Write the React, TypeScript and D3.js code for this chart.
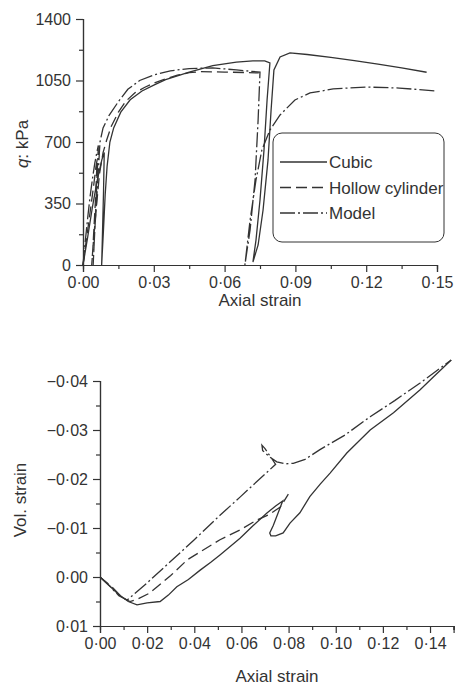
import { useRef, useEffect } from 'react';
import * as d3 from 'd3';

// top panel: deviator stress q (kPa) against axial strain
const cubicQ: [number, number][] = [
  [0, 0], [0.002, 160], [0.004, 330], [0.006, 480], [0.008, 600], [0.009, 640],
  [0.0087, 420], [0.0082, 150], [0.0079, 0],
  [0.0086, 180], [0.0094, 400], [0.0102, 560], [0.0114, 700], [0.013, 780], [0.016, 870],
  [0.02, 940], [0.025, 990], [0.03, 1024], [0.035, 1055], [0.045, 1098], [0.055, 1135],
  [0.065, 1155], [0.072, 1162], [0.077, 1162], [0.0792, 1150],
  [0.078, 939], [0.0767, 655], [0.075, 370], [0.0733, 142], [0.072, 17],
  [0.0742, 114], [0.0763, 313], [0.0784, 598], [0.0797, 882], [0.0809, 1110],
  [0.0835, 1184], [0.0877, 1207], [0.095, 1198], [0.105, 1182], [0.115, 1163],
  [0.125, 1143], [0.135, 1122], [0.1456, 1097],
];

const hollowQ: [number, number][] = [
  [0, 0], [0.0015, 150], [0.003, 300], [0.0045, 450], [0.0055, 560], [0.006, 600],
  [0.0052, 350], [0.0042, 100], [0.0037, 0],
  [0.0045, 150], [0.0058, 350], [0.007, 520], [0.0085, 640], [0.01, 710], [0.012, 790],
  [0.015, 870], [0.018, 930], [0.022, 980], [0.026, 1010], [0.03, 1035], [0.035, 1060],
  [0.04, 1080], [0.045, 1095], [0.05, 1100], [0.06, 1098], [0.07, 1095], [0.0745, 1093],
];

const modelQ: [number, number][] = [
  [0, 0], [0.001, 140], [0.002, 270], [0.003, 390], [0.004, 490], [0.005, 580],
  [0.006, 650], [0.0065, 680], [0.0058, 450], [0.005, 200], [0.0043, 0],
  [0.005, 200], [0.006, 420], [0.0072, 700], [0.0085, 780], [0.011, 850], [0.015, 930],
  [0.019, 1000], [0.024, 1050], [0.03, 1081], [0.037, 1105], [0.045, 1118], [0.055, 1122],
  [0.065, 1110], [0.075, 1098],
  [0.0742, 825], [0.0729, 484], [0.0708, 200], [0.0686, 0],
  [0.0708, 256], [0.0733, 484], [0.0758, 655], [0.0792, 768], [0.0835, 854],
  [0.0898, 939], [0.0962, 979], [0.106, 1002], [0.12, 1013], [0.134, 1007], [0.15, 990],
];

// bottom panel: volumetric strain against axial strain
const cubicVol: [number, number][] = [
  [0, 0], [0.004, 0.0018], [0.008, 0.0036], [0.012, 0.005], [0.0157, 0.0057], [0.02, 0.0053],
  [0.0255, 0.005], [0.029, 0.0037], [0.0326, 0.002], [0.0375, 0.0005], [0.0425, -0.0014],
  [0.047, -0.003], [0.0509, -0.0045], [0.0594, -0.0079], [0.065, -0.0105], [0.0707, -0.013],
  [0.0745, -0.0145], [0.0775, -0.0155],
  [0.0755, -0.013], [0.0735, -0.0105], [0.072, -0.009], [0.0725, -0.0084], [0.0745, -0.0084],
  [0.0777, -0.009], [0.0806, -0.011], [0.0848, -0.0131], [0.089, -0.0164], [0.0935, -0.019],
  [0.0976, -0.0212], [0.1047, -0.0253], [0.1146, -0.03], [0.1245, -0.0335], [0.1358, -0.0382],
  [0.1414, -0.0408], [0.149, -0.0443],
];

const hollowVol: [number, number][] = [
  [0, 0], [0.005, 0.002], [0.0095, 0.0042], [0.0127, 0.005], [0.016, 0.0045], [0.021, 0.0033],
  [0.03, -0.0003], [0.037, -0.0035], [0.0509, -0.0076], [0.0594, -0.0096], [0.0664, -0.0116],
  [0.072, -0.0128], [0.0765, -0.0143], [0.0799, -0.0169],
];

const modelVol: [number, number][] = [
  [0, 0], [0.004, 0.0018], [0.008, 0.0038], [0.0115, 0.0047], [0.02, 0.0012], [0.03, -0.0032],
  [0.04, -0.0076], [0.0509, -0.0126], [0.0594, -0.0163], [0.065, -0.0188], [0.07, -0.021],
  [0.0745, -0.023], [0.07, -0.0262], [0.0687, -0.0269], [0.069, -0.0258], [0.072, -0.0245],
  [0.075, -0.0235], [0.0785, -0.0231], [0.082, -0.0232], [0.087, -0.024], [0.0933, -0.026],
  [0.104, -0.029], [0.1146, -0.0327], [0.125, -0.036], [0.1358, -0.0396], [0.149, -0.0443],
];

const legendLabels = ['Cubic', 'Hollow cylinder', 'Model'];
const dashes = [null, '11 5', '15 3 2 3'];

const topXTicks = [0, 0.03, 0.06, 0.09, 0.12, 0.15];
const topXMinor = [0.015, 0.045, 0.075, 0.105, 0.135];
const topYTicks = [0, 350, 700, 1050, 1400];
const topYMinor = [175, 525, 875, 1225];
const botXTicks = [0, 0.02, 0.04, 0.06, 0.08, 0.1, 0.12, 0.14];
const botXMinor = [0.01, 0.03, 0.05, 0.07, 0.09, 0.11, 0.13, 0.15];
const botYTicks = [-0.04, -0.03, -0.02, -0.01, 0, 0.01];
const botYMinor = [-0.035, -0.025, -0.015, -0.005, 0.005];

const INK = '#333';
const FONT = '"Liberation Sans", Arial, sans-serif';

const fmt = (d: number, digits: number) =>
  d3.format(`.${digits}f`)(d).replace('.', '·').replace('-', '\u2212');

const App = () => {
  const ref = useRef<SVGSVGElement>(null);

  useEffect(() => {
    const svg = d3.select(ref.current);
    svg.selectAll('*').remove();

    const drawAxes = (g: any, x: any, y: any, xt: number[], xm: number[], yt: number[], ym: number[], xf: any, yf: any) => {
      const yBottom = y.range()[0];
      const xLeft = x.range()[0];
      g.append('g').attr('transform', `translate(0,${yBottom})`)
        .call(d3.axisBottom(x).tickValues(xm).tickSize(4).tickFormat(() => ''));
      g.append('g').attr('transform', `translate(0,${yBottom})`)
        .call(d3.axisBottom(x).tickValues(xt).tickSize(7).tickPadding(5).tickFormat(xf));
      g.append('g').attr('transform', `translate(${xLeft},0)`)
        .call(d3.axisLeft(y).tickValues(ym).tickSize(4).tickFormat(() => ''));
      g.append('g').attr('transform', `translate(${xLeft},0)`)
        .call(d3.axisLeft(y).tickValues(yt).tickSize(7).tickPadding(5).tickFormat(yf));
      g.selectAll('.domain').attr('stroke', INK).attr('stroke-width', 1.2);
      g.selectAll('.tick line').attr('stroke', INK).attr('stroke-width', 1.2);
      g.selectAll('.tick text').attr('fill', INK).attr('font-size', 16).attr('font-family', FONT);
    };

    const drawSeries = (g: any, x: any, y: any, list: [number, number][][]) => {
      const line = d3.line<[number, number]>().x(d => x(d[0])).y(d => y(d[1])).curve(d3.curveLinear);
      list.forEach((data, i) => {
        g.append('path')
          .datum(data)
          .attr('d', line)
          .attr('fill', 'none')
          .attr('stroke', INK)
          .attr('stroke-width', 1.3)
          .attr('stroke-dasharray', dashes[i]);
      });
    };

    // top chart
    const x1 = d3.scaleLinear().domain([0, 0.15]).range([83, 437]);
    const y1 = d3.scaleLinear().domain([0, 1400]).range([265, 19]);
    const top = svg.append('g');
    drawSeries(top, x1, y1, [cubicQ, hollowQ, modelQ]);
    drawAxes(top, x1, y1, topXTicks, topXMinor, topYTicks, topYMinor, (d: number) => fmt(d, 2), (d: number) => d3.format('d')(d));

    top.append('text').attr('x', 260).attr('y', 306).attr('text-anchor', 'middle')
      .attr('font-size', 17).attr('font-family', FONT).attr('fill', INK).text('Axial strain');
    const qLabel = top.append('text').attr('transform', 'translate(28,144) rotate(-90)')
      .attr('text-anchor', 'middle').attr('font-size', 17).attr('font-family', FONT).attr('fill', INK);
    qLabel.append('tspan').attr('font-style', 'italic').text('q');
    qLabel.append('tspan').text(': kPa');

    // legend
    const lg = top.append('g');
    lg.append('rect').attr('x', 273).attr('y', 133).attr('width', 171).attr('height', 109)
      .attr('rx', 9).attr('fill', 'white').attr('stroke', INK).attr('stroke-width', 1);
    legendLabels.forEach((label, i) => {
      const yy = 162 + i * 25.5;
      lg.append('line').attr('x1', 280).attr('x2', 327).attr('y1', yy).attr('y2', yy)
        .attr('stroke', INK).attr('stroke-width', 1.3).attr('stroke-dasharray', dashes[i]);
      lg.append('text').attr('x', 329).attr('y', yy + 6).attr('font-size', 17)
        .attr('font-family', FONT).attr('fill', INK).text(label);
    });

    // bottom chart
    const x2 = d3.scaleLinear().domain([0, 0.15]).range([100, 453.6]);
    const y2 = d3.scaleLinear().domain([0.01, -0.04]).range([626, 381]);
    const bot = svg.append('g');
    drawSeries(bot, x2, y2, [cubicVol, hollowVol, modelVol]);
    drawAxes(bot, x2, y2, botXTicks, botXMinor, botYTicks, botYMinor, (d: number) => fmt(d, 2), (d: number) => fmt(d, 2));

    bot.append('text').attr('x', 277).attr('y', 682).attr('text-anchor', 'middle')
      .attr('font-size', 17).attr('font-family', FONT).attr('fill', INK).text('Axial strain');
    bot.append('text').attr('transform', 'translate(26,500) rotate(-90)')
      .attr('text-anchor', 'middle').attr('font-size', 17).attr('font-family', FONT).attr('fill', INK)
      .text('Vol. strain');
  }, []);

  return (
    <svg ref={ref} width={456} height={688}
      style={{ position: 'absolute', left: 0, top: 0, background: 'white' }} />
  );
};

export default App;
